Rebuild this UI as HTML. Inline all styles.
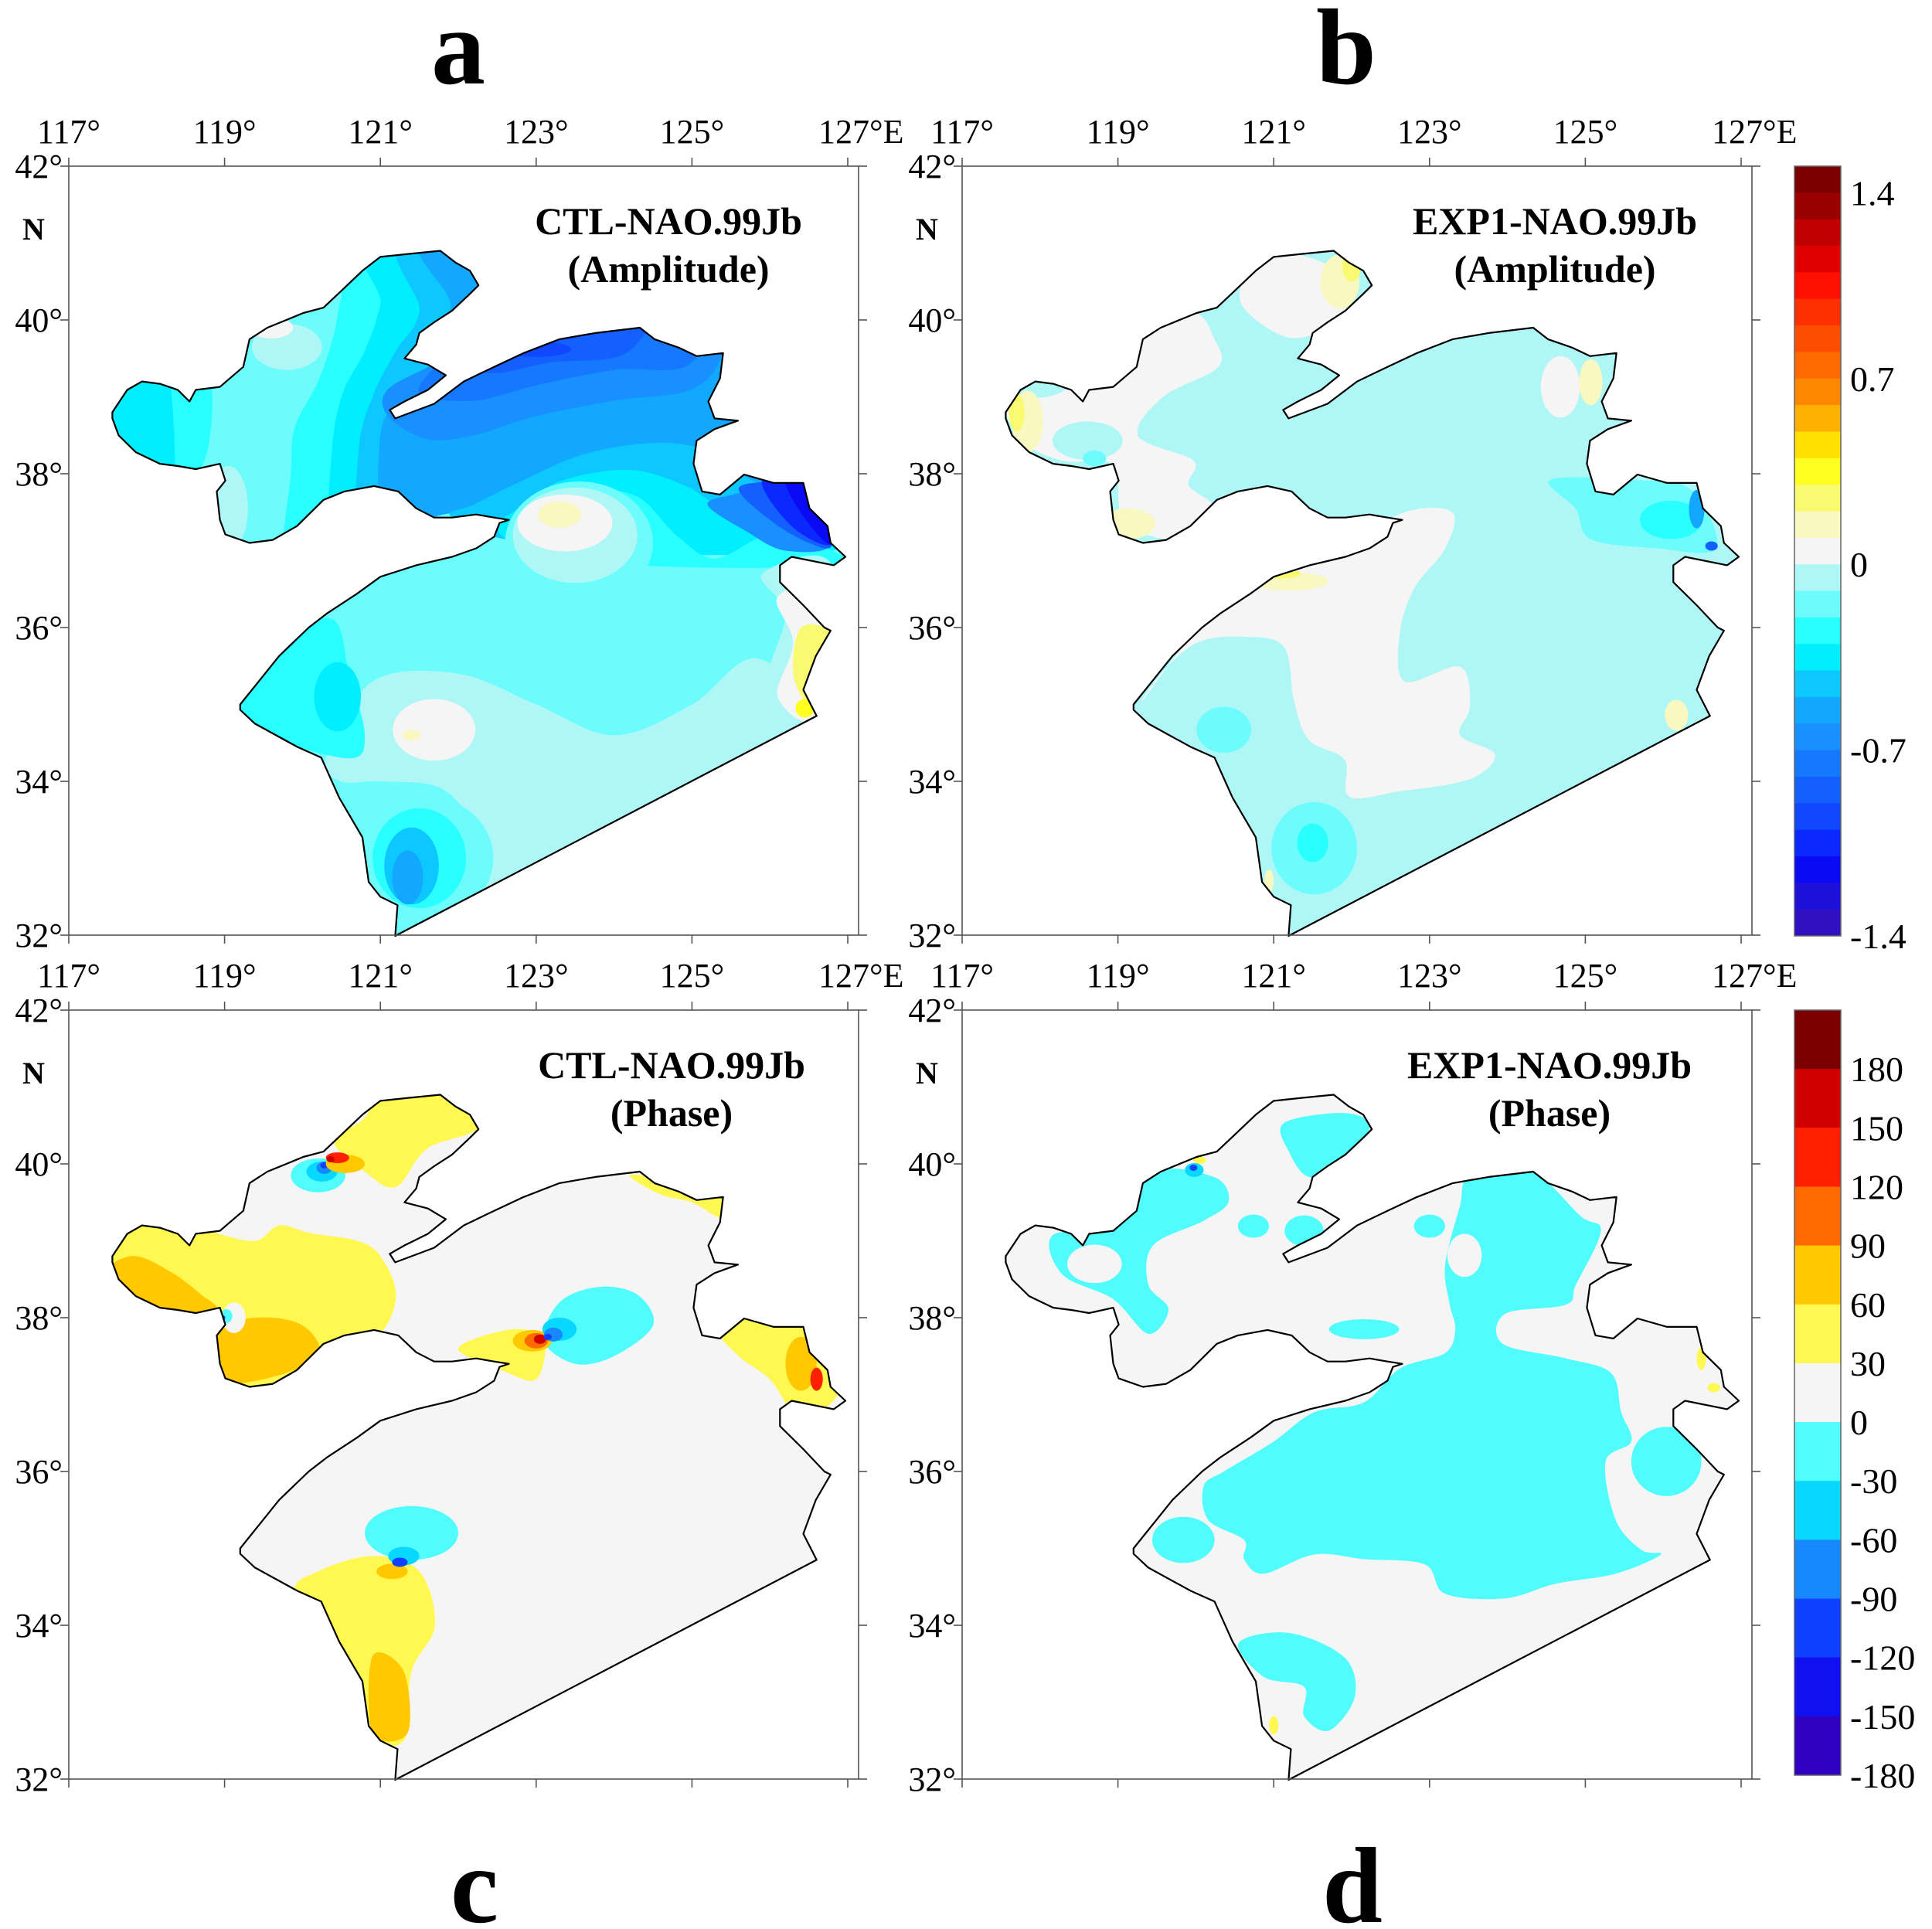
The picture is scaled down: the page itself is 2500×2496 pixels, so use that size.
<!DOCTYPE html>
<html><head><meta charset="utf-8">
<style>
html,body{margin:0;padding:0;background:#fff;}
svg{display:block;}
text{font-family:"Liberation Serif",serif;fill:#000;}
</style></head>
<body>
<svg id="fig" width="2500" height="2496" viewBox="0 0 2500 2496" xmlns="http://www.w3.org/2000/svg">
<rect width="2500" height="2496" fill="#fff"/>
<defs id="defs"></defs>
<g id="root"></g>
</svg>
<script>
// ---------- data ----------
const lonTicks = [117,119,121,123,125,127];
const latTicks = [42,40,38,36,34,32];
const ampLevels = [1.5,1.4,1.3,1.2,1.1,1.0,0.9,0.8,0.7,0.6,0.5,0.4,0.3,0.2,0.1,0.0,-0.1,-0.2,-0.3,-0.4,-0.5,-0.6,-0.7,-0.8,-0.9,-1.0,-1.1,-1.2,-1.3,-1.4];
const ampColors = ["#7a0000","#9a0000","#c00000","#e00000","#ff1000","#ff3000","#ff4d00","#ff6a00","#ff8800","#ffb000","#ffe000","#ffff20","#fafa70","#f8f8c0","#f5f5f5","#aff7f7","#6cfcfc","#2affff","#00eeff","#0cc8ff","#12a8ff","#1890ff","#1678ff","#1460ff","#1048ff","#0a28ff","#0a0af5","#1e10d8","#3010c0"];
const ampTickLabels = ["1.4","0.7","0","-0.7","-1.4"];
const ampTickValues = [1.4,0.7,0,-0.7,-1.4];
const phaseLevels = [210,180,150,120,90,60,30,0,-30,-60,-90,-120,-150,-180];
const phaseColors = ["#7a0000","#d00000","#ff2000","#ff6a00","#ffc800","#fff850","#f5f5f5","#50fcfc","#08d8ff","#1888ff","#1040ff","#1010f0","#3000c0"];
const phaseTickValues = [180,150,120,90,60,30,0,-30,-60,-90,-120,-150,-180];

const coast = [[117.56,38.80],[117.75,39.09],[117.94,39.20],[118.17,39.17],[118.40,39.09],[118.55,38.94],[118.63,39.09],[118.94,39.13],[119.24,39.39],[119.32,39.75],[119.55,39.90],[120.01,40.09],[120.27,40.16],[120.50,40.38],[120.77,40.64],[121.00,40.82],[121.38,40.86],[121.77,40.90],[121.96,40.75],[122.15,40.64],[122.26,40.45],[122.15,40.34],[121.92,40.12],[121.69,39.97],[121.50,39.83],[121.46,39.68],[121.31,39.50],[121.61,39.42],[121.84,39.28],[121.61,39.09],[121.31,38.94],[121.12,38.83],[121.19,38.72],[121.69,38.91],[122.07,39.20],[122.46,39.39],[122.84,39.57],[123.30,39.75],[123.76,39.83],[124.33,39.90],[124.52,39.75],[124.83,39.64],[125.06,39.53],[125.40,39.57],[125.36,39.24],[125.21,38.94],[125.29,38.72],[125.59,38.69],[125.29,38.58],[125.06,38.43],[125.02,38.13],[125.13,37.77],[125.36,37.73],[125.67,37.99],[126.05,37.88],[126.43,37.88],[126.51,37.55],[126.74,37.32],[126.78,37.10],[126.97,36.92],[126.82,36.81],[126.28,36.92],[126.13,36.81],[126.13,36.59],[126.43,36.29],[126.70,36.00],[126.78,35.96],[126.59,35.63],[126.43,35.19],[126.60,34.85],[121.19,31.99],[121.22,32.39],[121.00,32.50],[120.85,32.69],[120.77,33.27],[120.47,33.79],[120.24,34.31],[119.93,34.45],[119.39,34.75],[119.20,34.93],[119.20,35.00],[119.47,35.34],[119.70,35.63],[120.08,36.00],[120.31,36.18],[120.70,36.44],[121.00,36.66],[121.46,36.81],[121.92,36.92],[122.23,37.03],[122.46,37.18],[122.53,37.36],[122.65,37.40],[122.46,37.43],[122.23,37.47],[121.92,37.43],[121.69,37.43],[121.46,37.55],[121.23,37.77],[120.92,37.84],[120.54,37.77],[120.27,37.66],[119.93,37.32],[119.62,37.14],[119.32,37.10],[119.01,37.21],[118.94,37.40],[118.90,37.77],[119.01,37.91],[118.94,38.13],[118.63,38.06],[118.40,38.10],[118.17,38.13],[117.86,38.28],[117.64,38.50],[117.56,38.72]];

const layersA = [
 {c:"#6cfcfc",p:[[116,43],[128,43],[128,31],[116,31]]},
 {c:"#00eeff",p:[[117.3,40],[118.3,40],[118.35,38.6],[118.5,37.8],[117.3,37.8]]},
 {c:"#2affff",p:[[118.3,40],[118.8,39.3],[118.8,38.4],[118.6,37.9],[118.4,37.8],[118.35,38.6]]},
 {c:"#aff7f7",e:[119.05,37.55,0.25,0.55]},
 {c:"#aff7f7",e:[119.8,39.65,0.45,0.3]},
 {c:"#f5f5f5",e:[119.6,39.9,0.28,0.14]},
 {c:"#2affff",p:[[119.8,36.9],[119.85,38.0],[119.9,38.6],[120.2,39.2],[120.4,39.8],[120.5,40.3],[120.8,41.3],[127,41.3],[127,37.5],[121.6,37.5],[120.5,36.9]]},
 {c:"#00eeff",p:[[120.37,36.9],[120.37,38.2],[120.5,39.0],[120.8,39.6],[121.0,40.2],[121.2,41.3],[127,41.3],[127,37.5],[121.6,37.5],[121.0,36.9]]},
 {c:"#0cc8ff",p:[[120.72,36.9],[120.72,38.3],[120.9,39.0],[121.2,39.6],[121.5,40.1],[121.6,41.3],[127,41.3],[127,37.5],[121.8,37.5],[121.3,36.9]]},
 {c:"#12a8ff",p:[[121.05,36.9],[121.0,38.5],[121.3,39.0],[121.8,39.6],[121.9,40.2],[121.8,41.3],[127,41.3],[127,37.5],[122.0,37.5],[121.6,36.9]]},
 {c:"#1890ff",p:[[121.1,38.75],[121.6,38.45],[122.2,38.5],[123.0,38.75],[124.0,38.95],[125.0,39.1],[125.4,39.6],[125.4,40.5],[122.3,40.0],[121.8,39.5],[121.1,39.1]]},
 {c:"#1678ff",p:[[121.5,39.05],[122.2,38.95],[123.0,39.15],[124.0,39.35],[125.0,39.45],[125.2,40.5],[122.3,40.0],[121.8,39.5]]},
 {c:"#1460ff",p:[[122.3,39.35],[123.2,39.45],[124.2,39.6],[124.5,40.5],[122.3,40.2]]},
 {c:"#1048ff",e:[123.0,39.62,0.45,0.1]},
 {c:"#0cc8ff",p:[[121.9,37.45],[122.2,37.6],[122.8,37.9],[123.6,38.25],[124.5,38.4],[125.2,38.3],[125.8,37.9],[126.8,37.5],[126.8,37.0],[124.5,37.0],[122.6,37.15]]},
 {c:"#00eeff",p:[[122.5,37.35],[122.7,37.5],[123.3,37.9],[124.2,38.05],[124.9,37.85],[125.3,37.6],[125.6,37.5],[126.8,37.3],[126.8,37.0],[124.5,36.95],[122.8,37.1]]},
 {c:"#2affff",p:[[122.7,37.35],[123.0,37.6],[123.6,37.8],[124.3,37.7],[124.8,37.2],[125.3,36.9],[126.0,37.2],[126.8,37.0],[126.8,36.8],[124.5,36.8],[122.9,37.0]]},
 {c:"#1890ff",p:[[125.2,37.6],[125.6,37.75],[126.0,37.9],[126.5,37.9],[126.8,37.1],[126.2,37.0],[125.7,37.25]]},
 {c:"#1460ff",p:[[125.6,37.8],[126.0,37.9],[126.5,37.9],[126.8,37.1],[126.5,37.1],[126.0,37.4]]},
 {c:"#0a28ff",p:[[125.9,37.9],[126.5,37.9],[126.8,37.1],[126.3,37.3]]},
 {c:"#0a0af5",p:[[126.2,37.9],[126.6,37.9],[126.8,37.1],[126.5,37.35]]},
 {c:"#6cfcfc",e:[123.55,37.1,0.95,0.8]},
 {c:"#aff7f7",e:[123.5,37.2,0.8,0.62]},
 {c:"#f5f5f5",e:[123.37,37.36,0.61,0.37]},
 {c:"#f8f8c0",e:[123.3,37.47,0.28,0.17]},
 {c:"#aff7f7",p:[[120.3,34.3],[120.9,35.3],[122.0,35.4],[123.0,35.0],[124.0,34.6],[125.0,35.0],[125.8,35.6],[126.6,35.0],[126.7,34.7],[121.4,31.9],[122.0,32.5],[122.2,33.3],[121.8,33.9],[121.0,34.0],[120.5,34.0]]},
 {c:"#f5f5f5",e:[121.69,34.67,0.53,0.4]},
 {c:"#f8f8c0",e:[121.4,34.6,0.12,0.07]},
 {c:"#2affff",p:[[119.1,35.2],[119.8,35.9],[120.4,36.1],[120.6,35.4],[120.8,34.6],[120.6,34.3],[119.6,34.6]]},
 {c:"#00eeff",e:[120.45,35.1,0.3,0.45]},
 {c:"#6cfcfc",e:[121.6,33.0,0.85,0.8]},
 {c:"#2affff",e:[121.5,33.0,0.6,0.65]},
 {c:"#0cc8ff",e:[121.4,32.9,0.35,0.5]},
 {c:"#12a8ff",e:[121.35,32.75,0.2,0.35]},
 {c:"#aff7f7",p:[[125.9,36.7],[126.2,36.2],[126.0,35.5],[125.9,35.0],[126.6,34.8],[126.8,36.8]]},
 {c:"#f5f5f5",p:[[126.1,36.4],[126.3,35.8],[126.1,35.1],[126.6,34.85],[126.8,36.5]]},
 {c:"#fafa70",p:[[126.4,36.0],[126.3,35.4],[126.5,35.0],[126.7,35.2],[126.8,35.9]]},
 {c:"#ffff20",e:[126.45,34.95,0.12,0.12]}
];
const layersB = [
 {c:"#aff7f7",p:[[116,43],[128,43],[128,31],[116,31]]},
 {c:"#f5f5f5",p:[[117.58,38.94],[118.29,39.07],[119.26,39.90],[119.97,40.09],[120.23,39.77],[120.29,39.39],[119.58,39.0],[119.26,38.49],[119.97,38.17],[119.91,37.85],[120.23,37.54],[119.71,37.15],[119.07,37.41],[118.94,38.11],[118.29,38.17],[117.77,38.43]]},
 {c:"#aff7f7",e:[118.61,38.43,0.45,0.25]},
 {c:"#6cfcfc",e:[118.7,38.2,0.15,0.1]},
 {c:"#f5f5f5",p:[[120.62,40.53],[121.0,40.85],[121.52,40.79],[122.04,40.47],[121.78,39.96],[121.2,39.77],[120.62,40.15]]},
 {c:"#f8f8c0",e:[121.85,40.5,0.25,0.35]},
 {c:"#fafa70",e:[122.0,40.7,0.12,0.2]},
 {c:"#f8f8c0",e:[117.84,38.68,0.2,0.4]},
 {c:"#fafa70",e:[117.7,38.8,0.1,0.25]},
 {c:"#f8f8c0",e:[119.13,37.35,0.35,0.2]},
 {c:"#f5f5f5",p:[[120.10,36.07],[120.87,36.58],[121.91,37.03],[122.68,37.50],[123.29,37.50],[123.20,37.03],[122.81,36.52],[122.62,35.94],[122.68,35.30],[123.39,35.49],[123.52,34.98],[123.39,34.60],[123.84,34.35],[123.52,34.03],[122.62,33.87],[121.97,33.80],[121.91,34.28],[121.45,34.54],[121.26,35.05],[121.13,35.75],[120.62,35.88],[120.03,35.81],[119.58,35.43],[119.32,35.05]]},
 {c:"#f8f8c0",e:[121.2,36.6,0.5,0.12]},
 {c:"#fafa70",e:[121.1,36.7,0.25,0.06]},
 {c:"#6cfcfc",e:[120.36,34.67,0.35,0.3]},
 {c:"#6cfcfc",e:[121.52,33.13,0.55,0.6]},
 {c:"#2affff",e:[121.5,33.2,0.2,0.25]},
 {c:"#f5f5f5",e:[124.68,39.13,0.25,0.4]},
 {c:"#f8f8c0",e:[125.07,39.19,0.15,0.3]},
 {c:"#6cfcfc",p:[[124.55,37.92],[125.59,37.92],[126.36,37.79],[126.68,37.03],[125.91,37.03],[125.07,37.15],[124.88,37.54]]},
 {c:"#2affff",e:[126.1,37.4,0.4,0.25]},
 {c:"#12a8ff",e:[126.43,37.54,0.1,0.25]},
 {c:"#1460ff",e:[126.62,37.06,0.08,0.06]},
 {c:"#f8f8c0",e:[126.17,34.86,0.15,0.2]},
 {c:"#f8f8c0",e:[120.94,32.7,0.06,0.15]}
];
const layersC = [
 {c:"#f5f5f5",p:[[116,43],[128,43],[128,31],[116,31]]},
 {c:"#fff850",p:[[120.4,40.3],[120.8,40.6],[121.2,41.2],[122.4,41.2],[122.3,40.5],[121.6,40.2],[121.2,39.7],[120.8,39.9]]},
 {c:"#fff850",p:[[117.3,38.9],[117.9,39.3],[118.4,39.3],[118.9,39.1],[119.4,39.0],[119.7,39.2],[120.1,39.1],[120.7,39.0],[121.0,38.8],[121.2,38.3],[121.0,37.8],[120.5,37.6],[119.9,37.3],[119.0,37.0],[117.3,37.5]]},
 {c:"#ffc800",p:[[117.3,38.5],[117.8,38.8],[118.3,38.6],[118.7,38.3],[118.9,38.1],[118.5,37.9],[117.3,38.2]]},
 {c:"#ffc800",p:[[118.3,37.4],[118.7,37.8],[119.4,38.0],[120.0,37.9],[120.2,37.5],[119.5,37.2],[118.5,37.1]]},
 {c:"#f5f5f5",e:[119.12,38.0,0.15,0.2]},
 {c:"#ff2000",e:[118.85,37.98,0.22,0.06]},
 {c:"#50fcfc",e:[119.02,38.02,0.08,0.09]},
 {c:"#1040ff",e:[118.98,38.0,0.03,0.03]},
 {c:"#fff850",p:[[125.3,37.9],[125.8,38.1],[126.4,37.9],[126.9,37.1],[126.4,36.7],[126.0,37.2],[125.6,37.5]]},
 {c:"#ffc800",e:[126.4,37.4,0.2,0.35]},
 {c:"#ff2000",e:[126.6,37.2,0.08,0.15]},
 {c:"#fff850",p:[[124.2,39.85],[124.7,39.8],[125.4,39.7],[125.4,39.3],[125.0,39.5],[124.6,39.6]]},
 {c:"#fff850",p:[[122.0,37.6],[122.7,37.85],[123.1,37.7],[123.0,37.2],[122.6,37.3]]},
 {c:"#50fcfc",p:[[123.1,37.7],[123.3,38.2],[123.8,38.4],[124.3,38.3],[124.5,37.9],[124.0,37.5],[123.5,37.4]]},
 {c:"#ffc800",e:[122.95,37.7,0.25,0.14]},
 {c:"#ff6a00",e:[123.0,37.7,0.15,0.1]},
 {c:"#d00000",e:[123.05,37.72,0.08,0.06]},
 {c:"#08d8ff",e:[123.3,37.85,0.22,0.15]},
 {c:"#1888ff",e:[123.22,37.78,0.12,0.09]},
 {c:"#1040ff",e:[123.15,37.75,0.05,0.04]},
 {c:"#fff850",p:[[120.2,34.7],[120.9,34.9],[121.5,34.7],[121.7,34.0],[121.4,33.4],[121.3,32.5],[120.8,32.6],[120.4,33.5],[119.9,34.4]]},
 {c:"#ffc800",p:[[120.9,33.6],[121.3,33.4],[121.35,32.6],[120.9,32.6]]},
 {c:"#ffc800",e:[121.15,34.7,0.2,0.1]},
 {c:"#50fcfc",e:[121.4,35.2,0.6,0.35]},
 {c:"#08d8ff",e:[121.3,34.9,0.2,0.12]},
 {c:"#1040ff",e:[121.25,34.82,0.1,0.06]},
 {c:"#50fcfc",e:[120.2,39.85,0.35,0.22]},
 {c:"#08d8ff",e:[120.25,39.9,0.2,0.13]},
 {c:"#1888ff",e:[120.28,39.95,0.1,0.08]},
 {c:"#1040ff",e:[120.28,39.98,0.05,0.04]},
 {c:"#ffc800",e:[120.55,40.0,0.25,0.12]},
 {c:"#ff2000",e:[120.45,40.08,0.15,0.07]},
 {c:"#d00000",e:[120.36,40.06,0.05,0.04]}
];
const layersD = [
 {c:"#f5f5f5",p:[[116,43],[128,43],[128,31],[116,31]]},
 {c:"#50fcfc",p:[[123.52,39.83],[124.30,39.90],[124.94,39.32],[125.20,39.13],[124.88,38.43],[124.75,38.17],[123.97,38.05],[123.94,37.66],[124.75,37.47],[125.33,37.28],[125.46,36.77],[125.59,36.39],[125.26,36.13],[125.39,35.37],[125.72,34.98],[125.97,34.92],[125.39,34.67],[124.62,34.54],[123.97,34.35],[123.20,34.41],[122.94,34.79],[122.16,34.86],[121.52,34.92],[120.87,34.67],[120.62,34.86],[120.62,35.11],[120.16,35.37],[120.10,35.81],[120.36,36.0],[121.0,36.39],[121.52,36.77],[122.16,36.90],[122.62,37.34],[123.20,37.54],[123.33,37.85],[123.26,38.17],[123.20,38.68],[123.39,39.45]]},
 {c:"#f5f5f5",e:[123.45,38.81,0.22,0.28]},
 {c:"#50fcfc",e:[126.04,36.13,0.45,0.45]},
 {c:"#50fcfc",e:[119.84,35.11,0.4,0.3]},
 {c:"#50fcfc",p:[[120.55,33.77],[121.2,33.9],[121.91,33.58],[122.04,33.07],[121.71,32.63],[121.39,32.82],[121.39,33.2],[120.87,33.33]]},
 {c:"#50fcfc",p:[[118.16,39.07],[118.94,39.19],[119.39,39.90],[120.23,39.83],[120.42,39.51],[120.10,39.26],[119.45,38.94],[119.39,38.43],[119.65,38.11],[119.39,37.79],[118.94,38.24],[118.29,38.56]]},
 {c:"#f5f5f5",e:[118.7,38.7,0.35,0.25]},
 {c:"#50fcfc",p:[[121.13,40.53],[121.91,40.66],[122.23,40.47],[121.84,39.96],[121.45,39.83],[121.20,40.15]]},
 {c:"#50fcfc",e:[120.74,39.19,0.2,0.15]},
 {c:"#50fcfc",e:[121.39,39.13,0.25,0.2]},
 {c:"#50fcfc",e:[122.16,37.85,0.45,0.13]},
 {c:"#50fcfc",e:[123.0,39.19,0.2,0.15]},
 {c:"#fff850",e:[126.49,37.47,0.06,0.15]},
 {c:"#fff850",e:[126.65,37.09,0.08,0.06]},
 {c:"#fff850",e:[121.0,32.7,0.06,0.12]},
 {c:"#fff850",e:[120.05,40.05,0.08,0.05]},
 {c:"#08d8ff",e:[119.98,39.92,0.12,0.09]},
 {c:"#1040ff",e:[119.97,39.95,0.05,0.04]}
];

// ---------- drawing ----------
const NS = "http://www.w3.org/2000/svg";
const root = document.getElementById('root');
const defs = document.getElementById('defs');
const KX = 100.8, KY = 99.5;
function mk(tag, attrs, parent){const e=document.createElementNS(NS,tag);for(const k in attrs)e.setAttribute(k,attrs[k]);(parent||root).appendChild(e);return e;}
function smooth(pts){
  const n=pts.length;let d=`M${pts[0][0]},${pts[0][1]}`;
  for(let i=0;i<n;i++){
    const p0=pts[(i-1+n)%n],p1=pts[i],p2=pts[(i+1)%n],p3=pts[(i+2)%n];
    const c1=[p1[0]+(p2[0]-p0[0])/6,p1[1]+(p2[1]-p0[1])/6];
    const c2=[p2[0]-(p3[0]-p1[0])/6,p2[1]-(p3[1]-p1[1])/6];
    d+=`C${c1[0].toFixed(1)},${c1[1].toFixed(1)} ${c2[0].toFixed(1)},${c2[1].toFixed(1)} ${p2[0].toFixed(1)},${p2[1].toFixed(1)}`;
  }
  return d+'Z';
}
function panel(id, x0, y0, layers, titleLines, titleX){
  const X=lon=>x0+(lon-117)*KX, Y=lat=>y0+(42-lat)*KY;
  const W=1022, H=995;
  const g=mk('g',{});
  
  
  const cp=mk('clipPath',{id:'clip'+id},defs);
  const coastD='M'+coast.map(p=>X(p[0]).toFixed(1)+','+Y(p[1]).toFixed(1)).join('L')+'Z';
  mk('path',{d:coastD},cp);
  const fg=mk('g',{'clip-path':`url(#clip${id})`},g);
  
  
  layers.forEach(L=>{
    let el;
    if(L.e){el=mk('ellipse',{cx:X(L.e[0]),cy:Y(L.e[1]),rx:L.e[2]*KX,ry:L.e[3]*KY,fill:L.c},fg);}
    else{el=mk('path',{d:smooth(L.p.map(p=>[X(p[0]),Y(p[1])])),fill:L.c},fg);}
    
    
  });
  const cl=mk('path',{d:coastD,fill:'none',stroke:'#000','stroke-width':2.2,'stroke-linejoin':'round'},g);
  
  
  const fr=mk('rect',{x:x0,y:y0,width:W,height:H,fill:'none',stroke:'#555','stroke-width':1.6},g);
  
  
  lonTicks.forEach(lon=>{
    const x=X(lon);
    mk('line',{x1:x,y1:y0,x2:x,y2:y0-11,stroke:'#555','stroke-width':1.6},g);
    mk('line',{x1:x,y1:y0+H,x2:x,y2:y0+H+11,stroke:'#555','stroke-width':1.6},g);
    const t=mk('text',{x:lon===127?x-38:x,y:y0-30,'font-size':44,'text-anchor':lon===127?'start':'middle'},g);
    t.textContent=lon+'°'+(lon===127?'E':'');
    
    
  });
  latTicks.forEach(lat=>{
    const y=Y(lat);
    mk('line',{x1:x0,y1:y,x2:x0-11,y2:y,stroke:'#555','stroke-width':1.6},g);
    mk('line',{x1:x0+W,y1:y,x2:x0+W+11,y2:y,stroke:'#555','stroke-width':1.6},g);
    const t=mk('text',{x:x0-8,y:y+15,'font-size':44,'text-anchor':'end'},g);
    t.textContent=lat+'°';
    
    
  });
  const n=mk('text',{x:x0-60,y:y0+95,'font-size':40,'font-weight':'bold'},g);
  n.textContent='N';
  
  
  titleLines.forEach((s,i)=>{
    const t=mk('text',{x:titleX,y:y0+88+i*62,'font-size':50,'font-weight':'bold','text-anchor':'middle'},g);
    t.textContent=s;
    
    
  });
}
panel('a',89,215,layersA,['CTL-NAO.99Jb','(Amplitude)'],865);
panel('b',1245,215,layersB,['EXP1-NAO.99Jb','(Amplitude)'],2012);
panel('c',89,1307,layersC,['CTL-NAO.99Jb','(Phase)'],869);
panel('d',1245,1307,layersD,['EXP1-NAO.99Jb','(Phase)'],2005);

// colorbars
function colorbar(id,x0,yTop,yBot,levels,colors,tickVals,tickLabs){
  const g=mk('g',{});
  
  
  const vmax=levels[0], vmin=levels[levels.length-1];
  const Y=v=>yTop+(vmax-v)/(vmax-vmin)*(yBot-yTop);
  colors.forEach((c,i)=>{
    const r=mk('rect',{x:x0,y:Y(levels[i]),width:60,height:Y(levels[i+1])-Y(levels[i])+0.5,fill:c},g);
    
    
  });
  mk('rect',{x:x0,y:yTop,width:60,height:yBot-yTop,fill:'none',stroke:'#666','stroke-width':1.5},g);
  tickVals.forEach((v,i)=>{
    const t=mk('text',{x:x0+72,y:Y(v)+16,'font-size':46},g);
    t.textContent=tickLabs?tickLabs[i]:String(v);
    
    
  });
}
colorbar('amplitude',2322,215,1211,ampLevels,ampColors,ampTickValues,ampTickLabels);
colorbar('phase',2322,1307,2297,phaseLevels,phaseColors,phaseTickValues,null);

// panel letters
[['a',593,108],['b',1742,108],['c',614,2487],['d',1750,2487]].forEach(L=>{
  const t=mk('text',{x:L[1],y:L[2],'font-size':140,'font-weight':'bold','text-anchor':'middle'});
  t.textContent=L[0];
  
  
});
</script>
</body></html>
